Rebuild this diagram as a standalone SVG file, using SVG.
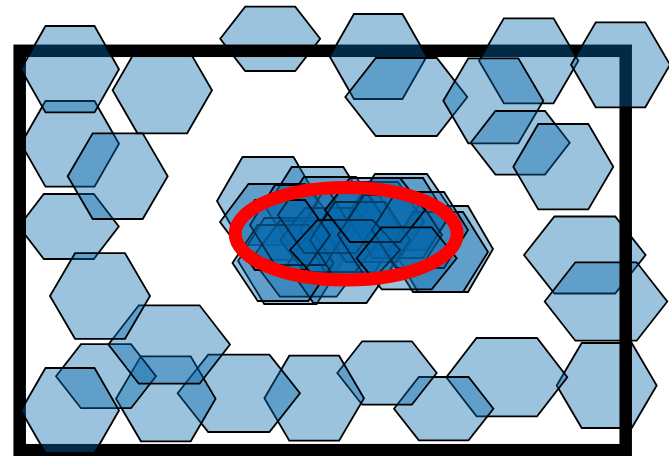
<svg xmlns="http://www.w3.org/2000/svg" width="669" height="456" viewBox="0 0 669 456">
<style>
.h{fill:#0868ac;fill-opacity:0.4;stroke:#000;stroke-width:1.8;stroke-linejoin:miter}
.frame{fill:none;stroke:#000;stroke-width:12.5}
.ring{fill:none;stroke:#ff0000;stroke-width:13}
</style>
<rect width="669" height="456" fill="#fff"/>
<g id="hex-under">
<polygon id="h2" class="h" points="112.6,90.3 137.45,47.3 187.15,47.3 212,90.3 187.15,133.3 137.45,133.3"/>
<polygon id="h3" class="h" points="220.2,38.8 245.2,6.6 295.2,6.6 320.2,38.8 295.2,71 245.2,71"/>
<polygon id="h4" class="h" points="21,143.8 45.5,101 94.5,101 119,143.8 94.5,186.6 45.5,186.6"/>
<polygon id="h6" class="h" points="18.8,226.5 43.8,194 93.8,194 118.8,226.5 93.8,259 43.8,259"/>
<polygon id="h14" class="h" points="524,255 554.4,216.5 615.2,216.5 645.6,255 615.2,293.5 554.4,293.5"/>
<polygon id="h15" class="h" points="544.7,301.5 575.35,262.3 636.65,262.3 667.3,301.5 636.65,340.7 575.35,340.7"/>
<polygon id="h16" class="h" points="556.7,385.5 581.7,343 631.7,343 656.7,385.5 631.7,428 581.7,428"/>
</g>
<rect id="frame" class="frame" x="19.7" y="50.8" width="606" height="399.4"/>
<g id="hex-over">
<polygon id="h1" class="h" points="21,69.2 45.5,26 94.5,26 119,69.2 94.5,112.4 45.5,112.4"/>
<polygon id="h5" class="h" points="67.7,176.2 92.7,133.4 142.7,133.4 167.7,176.2 142.7,219 92.7,219"/>
<polygon id="h7" class="h" points="329.7,56.5 353.95,14 402.45,14 426.7,56.5 402.45,99 353.95,99"/>
<polygon id="h8" class="h" points="345.3,97 375.8,58 436.8,58 467.3,97 436.8,136 375.8,136"/>
<polygon id="h9" class="h" points="479,60.8 503.85,18.3 553.55,18.3 578.4,60.8 553.55,103.3 503.85,103.3"/>
<polygon id="h10" class="h" points="443.3,100.8 468.3,58.3 518.3,58.3 543.3,100.8 518.3,143.3 468.3,143.3"/>
<polygon id="h11" class="h" points="470.7,142.8 495.45,111 544.95,111 569.7,142.8 544.95,174.6 495.45,174.6"/>
<polygon id="h12" class="h" points="513.3,166.7 538.3,124 588.3,124 613.3,166.7 588.3,209.4 538.3,209.4"/>
<polygon id="h13" class="h" points="571,64.8 595.75,22.3 645.25,22.3 670,64.8 645.25,107.3 595.75,107.3"/>
<polygon id="h17" class="h" points="446.3,377.2 476.55,338 537.05,338 567.3,377.2 537.05,416.4 476.55,416.4"/>
<polygon id="h18" class="h" points="394,408.7 418.85,377 468.55,377 493.4,408.7 468.55,440.4 418.85,440.4"/>
<polygon id="h19" class="h" points="337.3,373 362.15,341.3 411.85,341.3 436.7,373 411.85,404.7 362.15,404.7"/>
<polygon id="h20" class="h" points="264.4,398.2 289.3,355.7 339.1,355.7 364,398.2 339.1,440.7 289.3,440.7"/>
<polygon id="h21" class="h" points="177.6,393.3 208.2,354.6 269.4,354.6 300,393.3 269.4,432 208.2,432"/>
<polygon id="h22" class="h" points="116,398.8 140.9,356.3 190.7,356.3 215.6,398.8 190.7,441.3 140.9,441.3"/>
<polygon id="h23" class="h" points="56,376.2 81,344.2 131,344.2 156,376.2 131,408.2 81,408.2"/>
<polygon id="h24" class="h" points="21,410.5 45.5,368 94.5,368 119,410.5 94.5,453 45.5,453"/>
<polygon id="h25" class="h" points="108.4,344.5 138.8,305.3 199.6,305.3 230,344.5 199.6,383.7 138.8,383.7"/>
<polygon id="h26" class="h" points="50,296 75,253.2 125,253.2 150,296 125,338.8 75,338.8"/>
</g>
<g id="cluster">
<polygon class="h" points="217,201 242.5,157 293.5,157 319,201 293.5,245 242.5,245"/>
<polygon class="h" points="265.9,208 291.7,167 343.3,167 369.1,208 343.3,249 291.7,249"/>
<polygon class="h" points="220,222 248.5,184 305.5,184 334,222 305.5,260 248.5,260"/>
<polygon class="h" points="349,212 375,174 427,174 453,212 427,250 375,250"/>
<polygon class="h" points="393,249 418,206 468,206 493,249 468,292 418,292"/>
<polygon class="h" points="238.1,261 264.3,218 316.7,218 342.9,261 316.7,304 264.3,304"/>
<polygon class="h" points="251.6,258.7 279.95,220.7 336.65,220.7 365,258.7 336.65,296.7 279.95,296.7"/>
<polygon class="h" points="287,265 313.5,227 366.5,227 393,265 366.5,303 313.5,303"/>
<polygon class="h" points="300,230 325,188 375,188 400,230 375,272 325,272"/>
<polygon class="h" points="320,222 346,182 398,182 424,222 398,262 346,262"/>
<polygon class="h" points="280,240 305,208 355,208 380,240 355,272 305,272"/>
<polygon class="h" points="388,252 413,212 463,212 488,252 463,292 413,292"/>
<polygon class="h" points="232.5,263 257.75,225 308.25,225 333.5,263 308.25,301 257.75,301"/>
<polygon class="h" points="348,218 373,178 423,178 448,218 423,258 373,258"/>
<polygon class="h" points="250,225 275,185 325,185 350,225 325,265 275,265"/>
<polygon class="h" points="278,215 304,177 356,177 382,215 356,253 304,253"/>
<polygon class="h" points="310,240 335,202 385,202 410,240 385,278 335,278"/>
<polygon class="h" points="338,235 364,195 416,195 442,235 416,275 364,275"/>
<polygon class="h" points="372,230 396,192 444,192 468,230 444,268 396,268"/>
<polygon class="h" points="230,235 255,200 305,200 330,235 305,270 255,270"/>
<polygon class="h" points="290,250 317.5,220 372.5,220 400,250 372.5,280 317.5,280"/>
<polygon class="h" points="325,210 350,178 400,178 425,210 400,242 350,242"/>
<polygon class="h" points="356.7,258.3 381.7,227.3 431.7,227.3 456.7,258.3 431.7,289.3 381.7,289.3"/>
</g>
<ellipse id="ring" class="ring" cx="346.2" cy="233.7" rx="111" ry="46.3"/>
</svg>
